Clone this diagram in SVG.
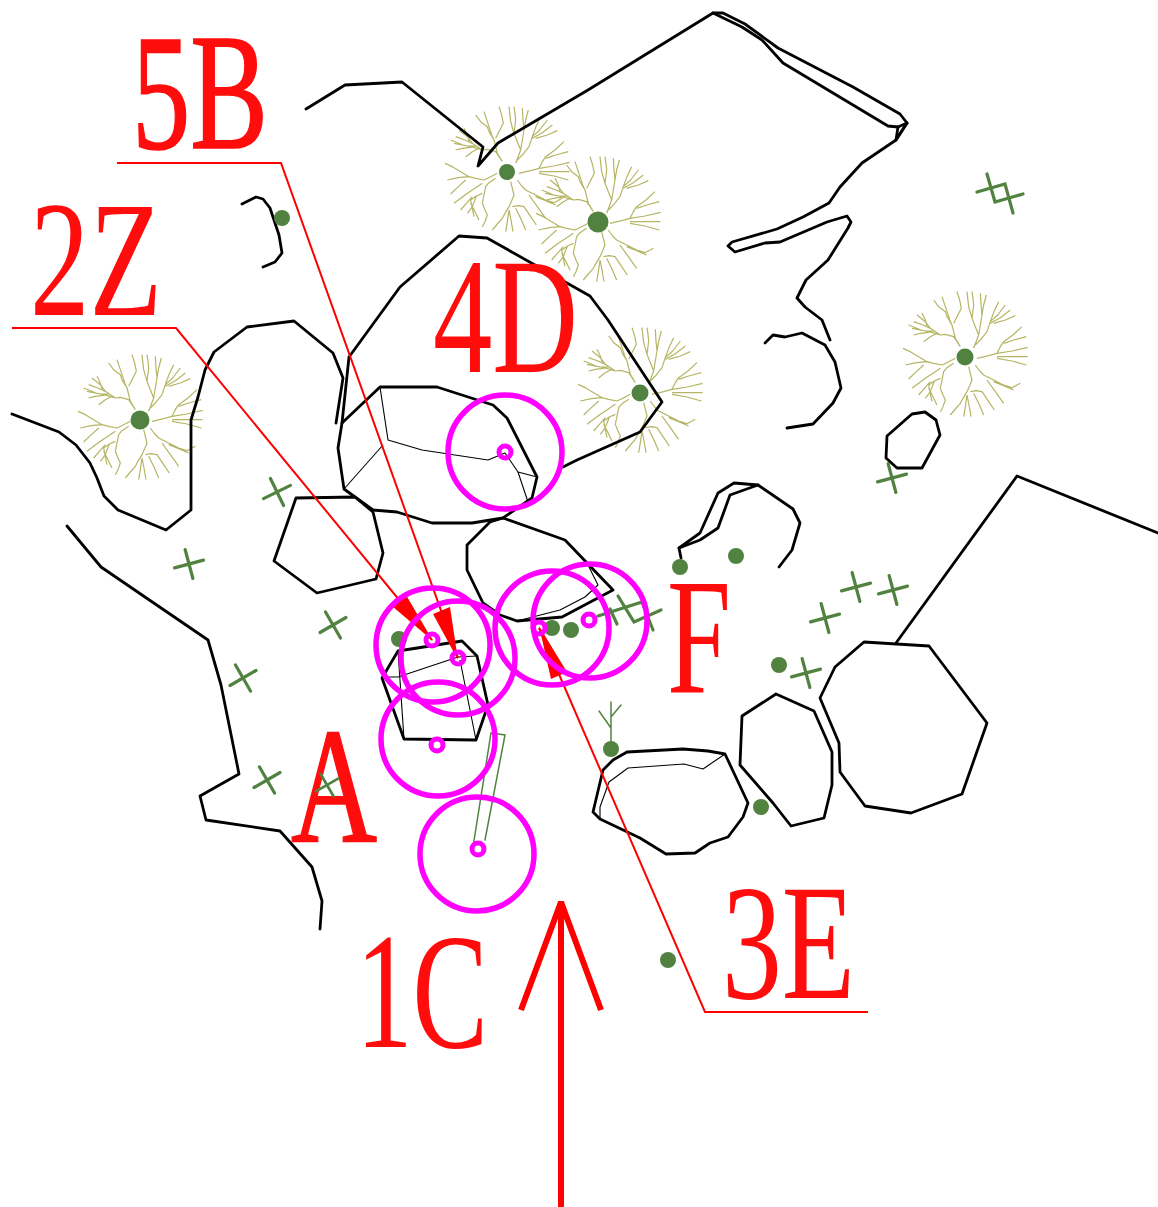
<svg xmlns="http://www.w3.org/2000/svg" width="1158" height="1207" viewBox="0 0 1158 1207">
<style>
.k{fill:none;stroke:#000;stroke-width:2.8;stroke-linejoin:round;stroke-linecap:round}
.t{fill:none;stroke:#000;stroke-width:1.1;stroke-linejoin:round}
.g{fill:#528240}
.x{fill:none;stroke:#528240;stroke-width:3.2;stroke-linecap:round}
.r{fill:none;stroke:#f00;stroke-width:2}
.h{fill:#f00}
.m{fill:none;stroke:#f0f;stroke-width:5.5}
.d{fill:none;stroke:#f0f;stroke-width:5}
.l{font-family:"Liberation Serif","Times New Roman",serif;font-size:166px;fill:#ff0d0d}
.b{stroke:#ff0d0d;stroke-width:1.6}
.c{fill:none;stroke:#b5b565;stroke-width:3.6;stroke-linejoin:round}
</style>
<defs>
<g id="tree"><path class="c" transform="scale(.3333) translate(-504,-396)" d="M490 365L470 335L445 328L430 330L412 318L400 310L385 290L360 270M400 310L378 300L350 290M390 303L385 285L375 265M430 330L405 322L372 315L335 300M420 325L400 335L380 350M410 318L385 318L345 310M395 322L370 325L350 330M490 365L475 340L465 300L458 285L455 275L445 245L435 215M465 300L450 275L445 260L425 245L410 225M470 295L480 275L493 250L488 225L480 200M530 370L545 330L535 305L525 280L515 245L510 200M525 280L530 240L528 220L525 200M545 330L555 270L552 240L550 205M555 270L560 240L568 210M530 365L550 345L570 320L580 290L590 262L605 230M580 290L602 270L625 240M580 295L610 278L640 255M590 295L625 285L655 272M540 400L575 392L600 385L610 365L620 350L648 330L675 305M620 355L650 345L688 335M600 385L645 378L692 367M600 395L650 395L692 395M600 400L645 408L688 420M535 420L548 438L560 450L590 465L620 480L645 488L670 475M590 470L620 482L650 495M570 465L595 500L620 535M515 425L525 465L518 482L510 500L498 520L490 535L475 552L460 570M510 510L505 545L500 575M510 510L516 540L522 575M520 500L538 497L555 500L575 530L592 555M530 505L545 535L560 570M470 415L450 428L440 440L435 465L430 490L438 510L445 525L438 545L430 560M430 460L412 468L395 480L400 505L405 530M395 490L408 515L420 540M412 468L400 500L385 520M475 400L455 410L435 420L410 415L390 410L365 395L340 380L318 370M390 410L358 413L325 420M380 420L358 440L335 462M430 430L408 445L385 460L365 475L345 490M400 470L382 490L365 510"/></g>
<path id="cross" class="x" d="M-15 0H15M0 -15V15"/>
</defs>
<g id="trees">
<use href="#tree" transform="translate(507,172)"/>
<use href="#tree" transform="translate(598,222)"/>
<use href="#tree" transform="translate(640,393)"/>
<use href="#tree" transform="translate(965,357)"/>
<use href="#tree" transform="translate(140,420)"/>
</g>
<g id="lines">
<polyline class="k" points="306,109 345,85 402,82 483,147 478,166 498,143 588,90 713,13 723,13 745,24 778,48 853,87 900,114 907,123 896,140 862,163 840,187 829,203 803,217 777,229 732,242 728,246 735,252 765,243 780,242 827,222 847,216 851,222 848,228 828,260 806,280 797,298 805,307 822,320 830,340"/>
<polyline class="k" points="713,13 742,27 762,40 783,63 888,126 898,127 907,123"/>
<polyline class="k" points="898,127 896,140 907,123"/>
<polyline class="k" points="765,343 773,335 785,337 802,333 825,345 835,362 841,388 833,403 813,424 787,428"/>
<polygon class="k" points="887,436 912,414 925,412 936,420 940,435 922,468 897,468 886,458"/>
<polyline class="k" points="1158,533 1017,476 896,643"/>
<polygon class="k" points="864,642 929,646 987,723 962,794 911,813 865,806 840,772 839,743 820,698 835,667"/>
<polygon class="k" points="776,694 814,711 832,752 832,785 824,818 791,826 773,803 740,765 742,716"/>
<polygon class="k" points="593,812 603,770 613,760 627,752 683,749 708,751 725,754 748,803 743,817 728,837 710,843 695,853 666,854 640,838 600,819"/>
<polyline class="t" points="725,754 703,769 684,764 628,768 609,782 600,807 600,819"/>
<polyline class="k" points="242,204 256,197 263,199 270,208 279,235 282,253 275,262 263,267"/>
<polyline class="k" points="12,414 59,432 76,445 90,463 97,478 104,496 118,510 166,530 191,510 191,420 198,397 205,370 214,352 247,327 294,321 333,353 343,378 336,423"/>
<polyline class="k" points="67,526 101,567 208,640 221,685 239,774 200,796 206,820 280,831 312,867 322,901 320,929"/>
<polyline class="k" points="342,423 349,357 400,287 459,236 487,238 590,296 608,320 662,402 640,432 577,460 563,467"/>
<polygon class="k" points="380,387 437,387 493,405 507,418 537,477 532,498 503,518 472,523 432,523 397,512 373,510 344,489 338,448 342,423"/>
<polyline class="t" points="380,387 388,440 422,450 488,460 505,453 518,472 537,477"/>
<polyline class="t" points="518,472 528,502"/>
<polyline class="t" points="383,445 344,489"/>
<polygon class="k" points="296,498 355,497 373,512 383,553 376,579 317,593 274,561"/>
<polygon class="k" points="503,518 490,522 467,545 467,570 483,603 500,615 517,621 562,617 613,590 565,540"/>
<polyline class="t" points="565,540 588,565 598,585 585,597 560,610 517,621"/>
<polygon class="k" points="398,651 462,641 477,656 488,705 476,740 404,739 382,678"/>
<polyline class="t" points="398,651 404,739"/>
<polyline class="t" points="385,677 398,677 458,657 477,656"/>
<polyline class="t" points="460,660 476,740"/>
<polyline class="k" points="679,548 700,533 718,493 734,483 758,485 793,509 800,523 792,550 779,567"/>
<polyline class="k" points="681,558 679,548 700,540 718,528 730,495 758,485"/>
</g>
<g id="labels">
<text class="l b" x="132" y="148" textLength="136" lengthAdjust="spacingAndGlyphs">5B</text>
<text class="l" x="30" y="315" textLength="132" lengthAdjust="spacingAndGlyphs">2Z</text>
<text class="l" x="433" y="372" textLength="145" lengthAdjust="spacingAndGlyphs">4D</text>
<text class="l b" x="291" y="842" textLength="86" lengthAdjust="spacingAndGlyphs">A</text>
<text class="l" x="667" y="693" textLength="64" lengthAdjust="spacingAndGlyphs">F</text>
<text class="l" x="356" y="1047" textLength="132" lengthAdjust="spacingAndGlyphs">1C</text>
<text class="l" x="722" y="998" textLength="133" lengthAdjust="spacingAndGlyphs">3E</text>
</g>
<g id="plants">
<circle class="g" cx="507" cy="172" r="8"/>
<circle class="g" cx="598" cy="222" r="10.5"/>
<circle class="g" cx="640" cy="393" r="8.5"/>
<circle class="g" cx="965" cy="357" r="8.5"/>
<circle class="g" cx="140" cy="420" r="9.5"/>
<circle class="g" cx="282" cy="218" r="8"/>
<circle class="g" cx="399" cy="639" r="8"/>
<circle class="g" cx="552" cy="628" r="8"/>
<circle class="g" cx="571" cy="630" r="8"/>
<circle class="g" cx="680" cy="567" r="8"/>
<circle class="g" cx="736" cy="556" r="8"/>
<circle class="g" cx="779" cy="665" r="8"/>
<circle class="g" cx="611" cy="749" r="8"/>
<circle class="g" cx="761" cy="807" r="8"/>
<circle class="g" cx="668" cy="960" r="8"/>
<use href="#cross" transform="translate(277,492) rotate(-26)"/>
<use href="#cross" transform="translate(189,564) rotate(-15)"/>
<use href="#cross" transform="translate(333,625) rotate(-30)"/>
<use href="#cross" transform="translate(243,678) rotate(-30)"/>
<use href="#cross" transform="translate(267,780) rotate(-30)"/>
<use href="#cross" transform="translate(327,785) rotate(-30) scale(.85)"/>
<use href="#cross" transform="translate(892,478) rotate(-15)"/>
<use href="#cross" transform="translate(825,618) rotate(-15)"/>
<use href="#cross" transform="translate(856,587) rotate(-15)"/>
<use href="#cross" transform="translate(893,590) rotate(-15)"/>
<use href="#cross" transform="translate(806,673) rotate(-15)"/>
<path class="x" d="M977 192L1005 184L1013 213M987 174L995 202L1023 194"/>
<path class="x" d="M598 616L642 602L653 630M610 609L617 624M618 596L634 622L661 610"/>
<path class="x" style="stroke-width:1.5" d="M473 847L491 733L505 735L485 840"/>
<path class="x" style="stroke-width:1.5" d="M611 702V743M599 711L611 728M621 705L611 717"/>
</g>
<g id="leaders">
<polyline class="r" points="117,163 281,163 458,658"/>
<polygon class="h" points="458,660 433,614 450,607"/>
<polyline class="r" points="12,328 176,328 432,640"/>
<polygon class="h" points="433,641 392,606 406,595"/>
<polyline class="r" points="868,1012 705,1012 539,628"/>
<polygon class="h" points="539,626 551,679 567,672"/>
<path fill="none" stroke="#f00" stroke-width="6" stroke-linejoin="bevel" d="M561 1207V902M521 1010L561 902L601 1010"/>
</g>
<g id="markers">
<circle class="m" cx="505" cy="452" r="57"/>
<circle class="m" cx="433" cy="645" r="57"/>
<circle class="m" cx="458" cy="658" r="57"/>
<circle class="m" cx="438" cy="739" r="57"/>
<circle class="m" cx="552" cy="628" r="57"/>
<circle class="m" cx="590" cy="621" r="57"/>
<circle class="m" cx="477" cy="854" r="57"/>
<circle class="d" cx="505" cy="452" r="6"/>
<circle class="d" cx="432" cy="640" r="6"/>
<circle class="d" cx="458" cy="658" r="6"/>
<circle class="d" cx="437" cy="745" r="6"/>
<circle class="d" cx="539" cy="628" r="6"/>
<circle class="d" cx="589" cy="620" r="6"/>
<circle class="d" cx="478" cy="849" r="6"/>
</g>
</svg>
